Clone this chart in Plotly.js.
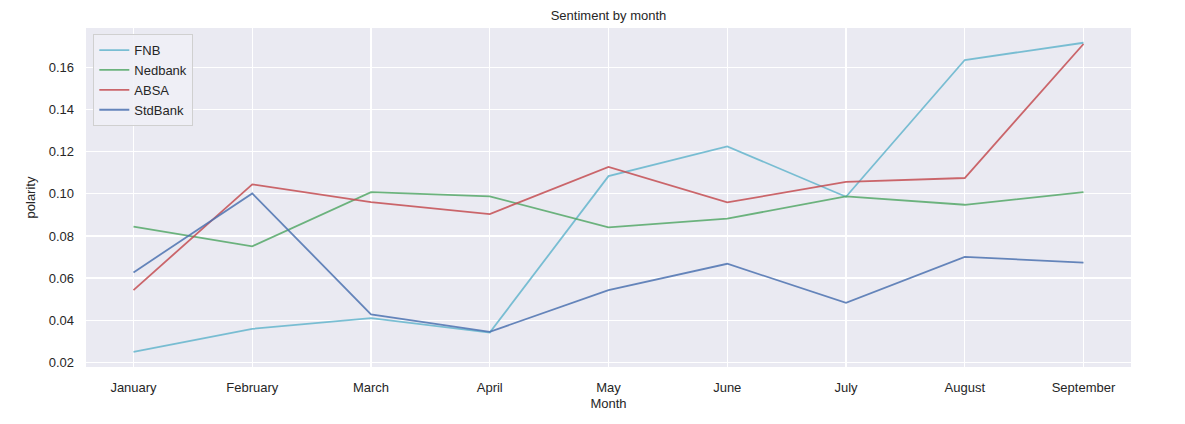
<!DOCTYPE html>
<html>
<head>
<meta charset="utf-8">
<script src="https://cdn.plot.ly/plotly-3.0.1.min.js"></script>
<style>
  body { margin: 0; background: #fff; }
  #chart { width: 1185px; height: 424px; }
</style>
</head>
<body>
<div id="chart"></div>
<script>
// data ------------------------------------------------------------------
const months = ["January", "February", "March", "April", "May", "June", "July", "August", "September"];
const fnb     = [0.0250, 0.0359, 0.0410, 0.0341, 0.1084, 0.1225, 0.0986, 0.1635, 0.1717];
const nedbank = [0.0844, 0.0751, 0.1008, 0.0988, 0.0841, 0.0882, 0.0988, 0.0948, 0.1008];
const absa    = [0.0543, 0.1045, 0.0961, 0.0904, 0.1128, 0.0959, 0.1057, 0.1075, 0.1711];
const stdbank = [0.0627, 0.1002, 0.0428, 0.0345, 0.0543, 0.0668, 0.0483, 0.0701, 0.0673];

// plot -------------------------------------------------------------------
function line(y, name, color) {
    return { x: months, y: y, mode: "lines", name: name, opacity: 0.85,
             line: { color: color, width: 1.8 } };
}

var data = [
    line(fnb, "FNB", "#64b5cd"),
    line(nedbank, "Nedbank", "#55a868"),
    line(absa, "ABSA", "#c44e52"),
    line(stdbank, "StdBank", "#4c72b0")
];

var layout = {
    width: 1185,
    height: 424,
    margin: { l: 86, r: 54, t: 28, b: 57 },
    paper_bgcolor: "#ffffff",
    plot_bgcolor: "#eaeaf2",
    font: { family: "Liberation Sans, Arial, sans-serif", size: 13, color: "#262626" },
    title: { text: "Sentiment by month", x: 0.5, xref: "paper", xanchor: "center",
             y: 0.964, yref: "container", yanchor: "middle",
             font: { size: 13, color: "#262626" } },
    xaxis: {
        type: "category",
        range: [-0.4, 8.4],
        showgrid: true, gridcolor: "#ffffff", gridwidth: 1.2,
        zeroline: false, showline: false, ticks: "",
        ticklabelstandoff: 11,
        tickfont: { size: 13 },
        title: { text: "Month", standoff: 4, font: { size: 13 } }
    },
    yaxis: {
        range: [0.0178, 0.1787],
        tickvals: [0.02, 0.04, 0.06, 0.08, 0.10, 0.12, 0.14, 0.16],
        ticktext: ["0.02", "0.04", "0.06", "0.08", "0.10", "0.12", "0.14", "0.16"],
        showgrid: true, gridcolor: "#ffffff", gridwidth: 1.2,
        zeroline: false, showline: false, ticks: "",
        ticklabelstandoff: 11,
        tickfont: { size: 13 },
        title: { text: "polarity", standoff: 10, font: { size: 13 } }
    },
    legend: {
        x: 0.007, y: 0.982, xanchor: "left", yanchor: "top",
        bgcolor: "rgba(240,240,246,0.9)",
        bordercolor: "#d0d0d0", borderwidth: 1,
        font: { size: 13 },
        tracegroupgap: 0,
        itemwidth: 30
    },
    showlegend: true
};

Plotly.newPlot("chart", data, layout, { staticPlot: true, displayModeBar: false });
</script>
</body>
</html>
